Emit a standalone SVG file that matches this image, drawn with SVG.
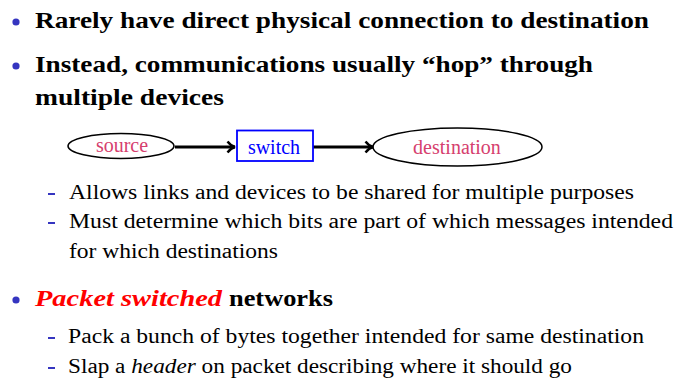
<svg xmlns="http://www.w3.org/2000/svg" width="691" height="381" viewBox="0 0 691 381" font-family="Liberation Serif, DejaVu Serif, serif">
<style>
.main{font-size:24px;font-weight:bold;fill:#000}
.sub{font-size:20px;fill:#000}
.node{font-size:20px;text-anchor:middle}
.dot{fill:#3535c0}
.dash{stroke:#3535c0;stroke-width:2}
.edge{stroke:#000;stroke-width:3;fill:none}
</style>
<defs>
<marker id="arr" viewBox="0 0 10 14" refX="9" refY="7" markerWidth="10" markerHeight="14" orient="auto" markerUnits="userSpaceOnUse">
<path d="M1.5,1.5 Q5,6 9,7 Q5,8 1.5,12.5" fill="none" stroke="#000" stroke-width="2.4"/>
</marker>
</defs>
<rect width="691" height="381" fill="#fff"/>
<g id="bullets">
<circle class="dot" cx="16" cy="22" r="3.6"/>
<text class="main" x="35" y="28" textLength="614" lengthAdjust="spacingAndGlyphs">Rarely have direct physical connection to destination</text>
<circle class="dot" cx="16" cy="66" r="3.6"/>
<text class="main" x="35" y="72" textLength="558" lengthAdjust="spacingAndGlyphs">Instead, communications usually “hop” through</text>
<text class="main" x="35" y="105" textLength="189" lengthAdjust="spacingAndGlyphs">multiple devices</text>
<line class="dash" x1="48" y1="194" x2="55" y2="194"/>
<text class="sub" x="69" y="199" textLength="565" lengthAdjust="spacingAndGlyphs">Allows links and devices to be shared for multiple purposes</text>
<line class="dash" x1="48" y1="223" x2="55" y2="223"/>
<text class="sub" x="69" y="228" textLength="604" lengthAdjust="spacingAndGlyphs">Must determine which bits are part of which messages intended</text>
<text class="sub" x="69" y="258" textLength="209" lengthAdjust="spacingAndGlyphs">for which destinations</text>
<circle class="dot" cx="16" cy="300" r="3.6"/>
<text class="main" x="35" y="306"><tspan font-style="italic" fill="#ff0000" textLength="187" lengthAdjust="spacingAndGlyphs">Packet switched</tspan><tspan x="229" textLength="104" lengthAdjust="spacingAndGlyphs">networks</tspan></text>
<line class="dash" x1="48" y1="338" x2="55" y2="338"/>
<text class="sub" x="68" y="343" textLength="576" lengthAdjust="spacingAndGlyphs">Pack a bunch of bytes together intended for same destination</text>
<line class="dash" x1="48" y1="368" x2="55" y2="368"/>
<text class="sub" x="68" y="373" textLength="504" lengthAdjust="spacingAndGlyphs">Slap a <tspan font-style="italic">header</tspan> on packet describing where it should go</text>
</g>
<g id="connectors">
<line class="edge" x1="175" y1="147" x2="235" y2="147" marker-end="url(#arr)"/>
<line class="edge" x1="313" y1="147" x2="373" y2="147" marker-end="url(#arr)"/>
</g>
<g id="source">
<ellipse cx="121" cy="146" rx="53" ry="12.5" fill="none" stroke="#000" stroke-width="1.5"/>
<text class="node" x="122" y="152" fill="#d6406e">source</text>
</g>
<g id="switch">
<rect x="237" y="130.5" width="76" height="30.5" fill="none" stroke="#0000ff" stroke-width="1.8"/>
<text class="node" x="274" y="154" fill="#0000ff">switch</text>
</g>
<g id="destination">
<ellipse cx="457.5" cy="147" rx="84.5" ry="19" fill="none" stroke="#000" stroke-width="1.5"/>
<text class="node" x="457" y="154" fill="#d6406e">destination</text>
</g>
</svg>
